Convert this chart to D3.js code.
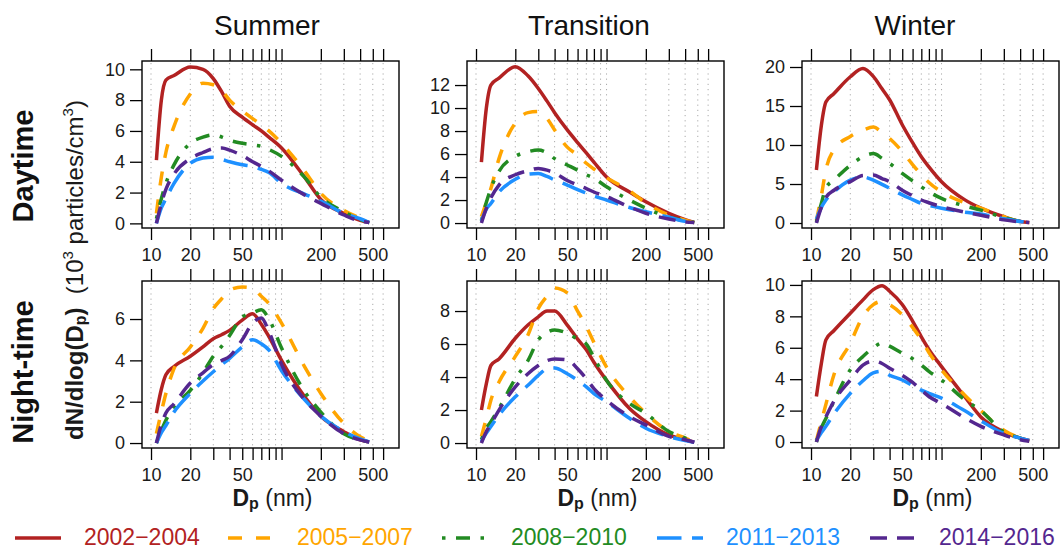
<!DOCTYPE html>
<html>
<head>
<meta charset="utf-8">
<script src="https://cdn.jsdelivr.net/npm/d3@7"></script>
<style>
  body { margin: 0; background: #fff; }
  svg { display: block; font-family: "Liberation Sans", Arial, sans-serif; }
</style>
</head>
<body>
<svg id="chart" width="1064" height="550"></svg>
<script>
// particle diameter (nm) at which each curve is read
var dp = [11, 12, 13, 15, 20, 25, 30, 35, 40, 50, 60, 70, 80, 100, 150, 200, 300, 400, 470];

var periods = ["2002\u22122004", "2005\u22122007", "2008\u22122010", "2011\u22122013", "2014\u22122016"];
var seasons = ["Summer", "Transition", "Winter"];
var dayparts = ["Daytime", "Night-time"];

// dN/dlog(Dp), 10^3 particles/cm3 ; order of rows = periods
var summerDay = [
  [4.1, 8.0, 9.3, 9.6, 10.15, 10.0, 9.4, 8.5, 7.6, 6.9, 6.4, 6.0, 5.6, 4.9, 3.0, 1.55, 0.65, 0.2, 0.05],
  [0.65, 3.0, 4.6, 6.3, 8.4, 9.1, 9.0, 8.6, 8.0, 7.3, 6.8, 6.4, 6.0, 5.2, 3.4, 1.95, 0.85, 0.35, 0.1],
  [0.3, 1.6, 2.6, 3.8, 5.2, 5.6, 5.75, 5.6, 5.4, 5.2, 5.1, 5.0, 4.8, 4.35, 3.0, 1.7, 0.75, 0.25, 0.05],
  [0, 1.0, 1.6, 2.6, 3.9, 4.25, 4.3, 4.15, 4.0, 3.8, 3.7, 3.5, 3.3, 2.6, 1.9, 1.45, 0.65, 0.3, 0.05],
  [0, 1.3, 2.2, 3.2, 4.2, 4.6, 4.85, 4.9, 4.75, 4.4, 4.0, 3.7, 3.4, 2.8, 1.85, 1.3, 0.55, 0.15, 0.05]
];
var transitionDay = [
  [5.3, 10.0, 12.0, 12.6, 13.6, 12.8, 11.7, 10.6, 9.6, 8.1, 7.0, 6.1, 5.3, 4.0, 2.7, 1.85, 0.85, 0.3, 0.05],
  [0.55, 1.8, 3.0, 5.6, 8.7, 9.6, 9.7, 9.1, 8.1, 6.6, 5.9, 5.2, 4.7, 3.95, 2.8, 1.75, 0.7, 0.25, 0.05],
  [0.2, 1.8, 3.0, 4.5, 5.8, 6.2, 6.35, 6.1, 5.6, 5.05, 4.6, 4.2, 3.9, 3.15, 2.0, 1.3, 0.5, 0.2, 0.05],
  [0.2, 1.2, 1.7, 2.7, 3.8, 4.25, 4.3, 4.05, 3.75, 3.3, 2.9, 2.6, 2.35, 2.0, 1.35, 0.98, 0.5, 0.15, 0.05],
  [0, 1.3, 2.2, 3.3, 4.2, 4.55, 4.75, 4.6, 4.35, 3.7, 3.3, 3.0, 2.7, 2.3, 1.4, 0.85, 0.35, 0.1, 0.05]
];
var winterDay = [
  [6.8, 12.5, 15.5, 16.6, 18.75, 19.8, 18.8, 17.2, 15.8, 12.6, 10.3, 8.5, 7.2, 5.3, 3.0, 1.9, 0.8, 0.2, 0.05],
  [0.3, 3.5, 6.8, 9.4, 11.1, 11.9, 12.3, 11.6, 10.85, 9.15, 7.5, 6.2, 5.2, 4.0, 2.6, 1.9, 0.8, 0.2, 0.05],
  [0.1, 2.5, 4.5, 5.5, 7.4, 8.5, 8.9, 8.3, 7.65, 6.35, 5.4, 4.65, 4.0, 3.15, 2.2, 1.65, 0.7, 0.2, 0.05],
  [0.5, 2.0, 2.95, 4.0, 5.5, 5.9, 5.5, 4.95, 4.45, 3.6, 3.0, 2.5, 2.25, 1.9, 1.4, 1.15, 0.55, 0.2, 0.1],
  [0, 2.0, 3.3, 4.2, 5.3, 6.1, 6.15, 5.7, 5.3, 4.2, 3.5, 2.95, 2.6, 2.1, 1.4, 1.0, 0.4, 0.15, 0.05]
];
var summerNight = [
  [1.45, 2.6, 3.3, 3.7, 4.2, 4.65, 5.05, 5.25, 5.45, 5.95, 6.25, 5.75, 5.15, 4.0, 2.25, 1.3, 0.55, 0.15, 0.05],
  [0.45, 1.5, 2.4, 3.6, 4.65, 5.55, 6.5, 7.0, 7.4, 7.55, 7.5, 7.1, 6.75, 5.8, 3.7, 2.4, 0.95, 0.3, 0.1],
  [0, 0.6, 1.1, 1.75, 2.55, 3.4, 4.2, 4.7, 5.2, 6.1, 6.3, 6.45, 6.0, 4.6, 2.5, 1.5, 0.45, 0.15, 0.05],
  [0, 0.5, 0.85, 1.5, 2.4, 3.0, 3.45, 3.8, 4.1, 4.65, 5.0, 4.8, 4.5, 3.5, 2.1, 1.3, 0.55, 0.2, 0.05],
  [0, 0.9, 1.45, 1.9, 2.9, 3.4, 3.8, 4.0, 4.2, 5.0, 5.8, 6.05, 5.4, 3.8, 2.1, 1.3, 0.45, 0.15, 0.05]
];
var transitionNight = [
  [2.0, 3.6, 4.7, 5.1, 6.35, 7.15, 7.65, 8.0, 8.0, 7.15, 6.3, 5.65, 4.9, 3.8, 2.1, 1.3, 0.5, 0.2, 0.05],
  [0.4, 1.5, 2.6, 3.7, 5.25, 6.55, 8.15, 8.9, 9.4, 9.1, 8.0, 7.05, 6.1, 4.6, 2.8, 1.8, 0.7, 0.3, 0.05],
  [0.2, 0.9, 1.3, 2.1, 3.9, 5.0, 6.25, 6.7, 6.85, 6.65, 6.3, 6.0, 5.2, 3.8, 2.4, 1.8, 0.7, 0.3, 0.05],
  [0.1, 0.6, 1.0, 1.7, 2.8, 3.5, 4.1, 4.5, 4.55, 4.2, 3.8, 3.4, 3.0, 2.5, 1.5, 0.9, 0.4, 0.15, 0.05],
  [0, 0.7, 1.15, 2.0, 3.4, 4.2, 4.7, 5.0, 5.1, 5.05, 4.5, 3.9, 3.3, 2.6, 1.6, 1.1, 0.4, 0.2, 0.05]
];
var winterNight = [
  [2.9, 5.0, 6.5, 7.1, 8.2, 9.05, 9.7, 9.95, 9.6, 8.75, 7.7, 6.7, 5.9, 4.8, 2.9, 1.6, 0.65, 0.25, 0.1],
  [0.1, 1.3, 2.4, 4.3, 6.3, 8.0, 8.75, 8.95, 8.75, 8.1, 7.3, 6.5, 5.7, 4.6, 3.0, 2.0, 0.75, 0.25, 0.05],
  [0, 0.9, 1.5, 2.6, 4.6, 5.45, 6.0, 6.3, 6.1, 5.65, 5.3, 4.9, 4.5, 3.95, 2.7, 2.0, 0.65, 0.25, 0.05],
  [0.1, 0.6, 1.0, 1.8, 3.1, 3.9, 4.4, 4.5, 4.25, 3.95, 3.6, 3.3, 3.1, 2.8, 2.0, 1.35, 0.55, 0.25, 0.1],
  [0, 1.0, 1.6, 2.6, 3.95, 4.9, 5.15, 5.0, 4.7, 4.25, 3.8, 3.3, 2.9, 2.45, 1.55, 1.0, 0.45, 0.15, 0.05]
];

var xTicks = [10, 20, 30, 40, 50, 60, 70, 80, 90, 100, 200, 300, 400, 500, 600];
var xLabels = [10, 20, 50, 200, 500];
var yTicks = [
  [0, 2, 4, 6, 8, 10], [0, 2, 4, 6, 8, 10, 12], [0, 5, 10, 15, 20],
  [0, 2, 4, 6], [0, 2, 4, 6, 8], [0, 2, 4, 6, 8, 10]
];
var yDomains = [
  [-0.3, 10.54], [-0.43, 14.09], [-0.64, 20.77],
  [-0.24, 7.84], [-0.3, 9.82], [-0.38, 10.25]
];

var panels = [summerDay, transitionDay, winterDay, summerNight, transitionNight, winterNight];

var colors = ["#B22222", "#FFA500", "#228B22", "#1E90FF", "#54278F"];
var dashes = ["none", "14,14", "3.5,10.5,14,10.5", "24.5,10.5", "17,10"];

// layout
var colLeft = [142, 467, 802],
    rowTop = [61, 281],
    pw = 257,
    ph = 167;

var svg = d3.select("#chart");

var x = d3.scaleLog()
  .domain([8.53, 794])
  .range([0, pw]);

panels.forEach(function(series, i) {
  var r = Math.floor(i / 3), c = i % 3;
  var g = svg.append("g")
    .attr("transform", "translate(" + colLeft[c] + "," + rowTop[r] + ")");

  var y = d3.scaleLinear()
    .domain(yDomains[i])
    .range([ph, 0]);

  // dotted vertical grid
  g.selectAll(".grid")
    .data(xTicks)
    .enter()
    .append("line")
      .attr("x1", function(d) { return x(d); })
      .attr("x2", function(d) { return x(d); })
      .attr("y1", 2)
      .attr("y2", ph)
      .style("stroke", "#aaaaaa")
      .style("stroke-width", 1)
      .style("stroke-dasharray", "1.2,4");

  // axes
  var bottom = g.append("g")
    .attr("transform", "translate(0," + ph + ")")
    .call(d3.axisBottom(x).tickValues(xTicks).tickSize(12).tickPadding(8)
      .tickFormat(function(d) { return xLabels.indexOf(d) >= 0 ? d : ""; }));

  var top = g.append("g")
    .call(d3.axisTop(x).tickValues(xTicks).tickSize(12).tickFormat(""));

  var left = g.append("g")
    .call(d3.axisLeft(y).tickValues(yTicks[i]).tickSize(12).tickPadding(5));

  [bottom, top, left].forEach(function(a) {
    a.select(".domain").remove();
    a.selectAll(".tick line").style("stroke", "#000").style("stroke-width", 1.3);
    a.selectAll(".tick text").style("font-size", "18px").style("fill", "#1a1a1a")
      .style("font-family", "'Liberation Sans', Arial, sans-serif");
  });

  // curves
  var line = d3.line()
    .x(function(d) { return x(d[0]); })
    .y(function(d) { return y(d[1]); })
    .curve(d3.curveMonotoneX);

  series.forEach(function(vals, k) {
    g.append("path")
      .datum(dp.map(function(d, j) { return [d, vals[j]]; }))
      .attr("d", line)
      .style("fill", "none")
      .style("stroke", colors[k])
      .style("stroke-width", 3.5)
      .style("stroke-dasharray", dashes[k]);
  });

  // frame
  g.append("rect")
    .attr("width", pw)
    .attr("height", ph)
    .style("fill", "none")
    .style("stroke", "#000")
    .style("stroke-width", 1.4);

  // x label under the bottom row
  if (r == 1) {
    var xl = svg.append("text")
      .attr("x", colLeft[c] + pw / 2 + 2)
      .attr("y", 506)
      .attr("text-anchor", "middle")
      .style("font-size", "23px")
      .style("fill", "#1a1a1a");
    xl.append("tspan").style("font-weight", "bold").text("D");
    xl.append("tspan").style("font-weight", "bold").style("font-size", "16px").attr("dy", 3).text("p");
    xl.append("tspan").attr("dy", -3).text(" (nm)");
  }
});

// season titles
var titleX = [267, 589, 915];
seasons.forEach(function(s, i) {
  svg.append("text")
    .attr("x", titleX[i])
    .attr("y", 35)
    .attr("text-anchor", "middle")
    .style("font-size", "28px")
    .style("fill", "#111")
    .text(s);
});

// row titles
var rowY = [166, 372];
dayparts.forEach(function(s, i) {
  svg.append("text")
    .attr("transform", "translate(33," + rowY[i] + ") rotate(-90)")
    .attr("text-anchor", "middle")
    .style("font-size", "29px")
    .style("font-weight", "bold")
    .style("fill", "#111")
    .text(s);
});

// shared y label
var yl = svg.append("text")
  .attr("transform", "translate(83,270) rotate(-90)")
  .attr("text-anchor", "middle")
  .style("font-size", "24px")
  .style("fill", "#1a1a1a");
yl.append("tspan").style("font-weight", "bold").text("dN/dlog(D");
yl.append("tspan").style("font-weight", "bold").style("font-size", "16px").attr("dy", 3).text("p");
yl.append("tspan").style("font-weight", "bold").attr("dy", -3).text(")");
yl.append("tspan").text("\u00a0\u00a0(10");
yl.append("tspan").style("font-size", "15px").attr("dy", -10).text("3");
yl.append("tspan").attr("dy", 10).text(" particles/cm");
yl.append("tspan").style("font-size", "15px").attr("dy", -10).text("3");
yl.append("tspan").attr("dy", 10).text(")");

// legend
var legX = [15, 228, 442, 657, 870];
periods.forEach(function(p, k) {
  svg.append("line")
    .attr("x1", legX[k])
    .attr("x2", legX[k] + 46)
    .attr("y1", 538)
    .attr("y2", 538)
    .style("stroke", colors[k])
    .style("stroke-width", 3.5)
    .style("stroke-dasharray", dashes[k]);
  svg.append("text")
    .attr("x", legX[k] + 69)
    .attr("y", 545)
    .style("font-size", "23px")
    .style("fill", colors[k])
    .text(p);
});
</script>
</body>
</html>
